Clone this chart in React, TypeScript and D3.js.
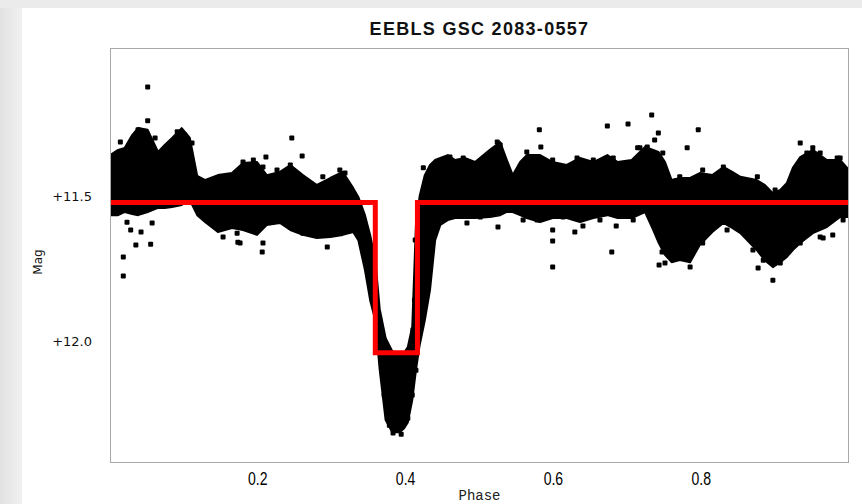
import * as React from 'react';
import * as d3 from 'd3';

// dense light-curve band (phase, bright edge, faint edge)
const bandPhase = [
  0.000, 0.011, 0.020, 0.030, 0.038, 0.051, 0.065, 0.074, 0.084, 0.097,
  0.108, 0.118, 0.129, 0.146, 0.165, 0.180, 0.199, 0.212, 0.230, 0.244,
  0.261, 0.280, 0.298, 0.315, 0.329, 0.336, 0.345, 0.352, 0.359, 0.365,
  0.373, 0.382, 0.392, 0.398, 0.403, 0.409, 0.414, 0.419, 0.426, 0.433,
  0.440, 0.447, 0.457, 0.467, 0.480, 0.494, 0.514, 0.528, 0.537, 0.545,
  0.555, 0.564, 0.582, 0.599, 0.618, 0.636, 0.654, 0.673, 0.687, 0.706,
  0.724, 0.735, 0.742, 0.751, 0.760, 0.771, 0.785, 0.798, 0.815, 0.830,
  0.842, 0.853, 0.875, 0.886, 0.897, 0.907, 0.916, 0.924, 0.934, 0.951,
  0.970, 0.988, 1.000,
];
const bandUpper = [
  11.359, 11.341, 11.334, 11.290, 11.266, 11.272, 11.348, 11.324, 11.300, 11.266,
  11.300, 11.431, 11.445, 11.428, 11.421, 11.386, 11.383, 11.428, 11.417, 11.393,
  11.428, 11.462, 11.438, 11.417, 11.472, 11.503, 11.566, 11.634, 11.721, 11.890,
  11.990, 12.035, 12.045, 12.040, 12.020, 11.950, 11.600, 11.500, 11.428, 11.393,
  11.376, 11.369, 11.359, 11.376, 11.369, 11.383, 11.341, 11.314, 11.376, 11.428,
  11.383, 11.359, 11.359, 11.383, 11.393, 11.369, 11.383, 11.359, 11.383, 11.376,
  11.331, 11.341, 11.348, 11.383, 11.445, 11.438, 11.438, 11.421, 11.428, 11.400,
  11.417, 11.434, 11.445, 11.462, 11.490, 11.479, 11.455, 11.403, 11.366, 11.341,
  11.376, 11.376, 11.410,
];
const bandLower = [
  11.566, 11.566, 11.555, 11.562, 11.566, 11.555, 11.541, 11.541, 11.538, 11.531,
  11.514, 11.566, 11.590, 11.624, 11.610, 11.617, 11.634, 11.600, 11.593, 11.617,
  11.634, 11.645, 11.641, 11.634, 11.624, 11.652, 11.755, 11.859, 11.928, 12.100,
  12.272, 12.314, 12.314, 12.300, 12.280, 12.203, 12.100, 12.014, 11.928, 11.824,
  11.652, 11.600, 11.583, 11.576, 11.576, 11.576, 11.572, 11.566, 11.555, 11.555,
  11.566, 11.576, 11.590, 11.576, 11.576, 11.590, 11.576, 11.566, 11.576, 11.576,
  11.555, 11.617, 11.659, 11.703, 11.728, 11.721, 11.728, 11.669, 11.624, 11.593,
  11.610, 11.628, 11.686, 11.721, 11.745, 11.728, 11.710, 11.686, 11.662, 11.628,
  11.607, 11.572, 11.572,
];

// single measurements along the ragged edges of the band and in the eclipse
const edgePhase = [
  0.038, 0.043, 0.061, 0.068, 0.091, 0.101, 0.111, 0.180, 0.194, 0.207,
  0.226, 0.240, 0.288, 0.311, 0.318, 0.424, 0.460, 0.478, 0.524, 0.528,
  0.564, 0.599, 0.632, 0.654, 0.681, 0.717, 0.727, 0.748, 0.771, 0.802,
  0.830, 0.876, 0.930, 0.943, 0.961, 0.984,
  0.153, 0.172, 0.176, 0.199, 0.207, 0.244, 0.261, 0.271, 0.288, 0.483,
  0.501, 0.578, 0.599, 0.613, 0.645, 0.663, 0.708, 0.740, 0.754, 0.785,
  0.802, 0.835, 0.870, 0.884, 0.907, 0.934, 0.961, 0.992,
  0.333, 0.340, 0.348, 0.356, 0.364, 0.371, 0.412, 0.410, 0.426, 0.433,
  0.413, 0.368, 0.371, 0.378, 0.383, 0.394, 0.403, 0.409, 0.414, 0.386,
];
const edgeMag = [
  11.272, 11.300, 11.300, 11.352, 11.279, 11.290, 11.317, 11.383, 11.376, 11.400,
  11.410, 11.410, 11.434, 11.410, 11.421, 11.403, 11.366, 11.369, 11.314, 11.324,
  11.348, 11.376, 11.369, 11.376, 11.369, 11.334, 11.331, 11.352, 11.434, 11.410,
  11.400, 11.434, 11.410, 11.352, 11.352, 11.369,
  11.641, 11.628, 11.662, 11.607, 11.662, 11.607, 11.628, 11.617, 11.607, 11.593,
  11.572, 11.583, 11.617, 11.572, 11.572, 11.583, 11.583, 11.593, 11.686, 11.745,
  11.662, 11.617, 11.686, 11.721, 11.731, 11.662, 11.641, 11.583,
  11.548, 11.652, 11.738, 11.859, 11.928, 11.997, 11.859, 11.962, 11.721, 11.617,
  11.652, 12.066, 12.186, 12.290, 12.317, 12.321, 12.266, 12.186, 12.100, 12.238,
];

// stray measurements well outside the band
const outPhase = [
  0.051, 0.051, 0.014, 0.018, 0.018, 0.035, 0.055, 0.057, 0.023, 0.028,
  0.042, 0.246, 0.260, 0.211, 0.244, 0.206, 0.294, 0.173, 0.581, 0.583,
  0.673, 0.701, 0.733, 0.742, 0.737, 0.525, 0.559, 0.599, 0.599, 0.629,
  0.640, 0.685, 0.679, 0.743, 0.751, 0.796, 0.781, 0.714, 0.934, 0.951,
  0.988, 0.900, 0.965, 0.978, 0.877, 0.897, 0.747,
];
const outMag = [
  11.124, 11.241, 11.314, 11.710, 11.776, 11.669, 11.666, 11.593, 11.590, 11.617,
  11.624, 11.300, 11.362, 11.366, 11.393, 11.693, 11.676, 11.659, 11.272, 11.331,
  11.259, 11.252, 11.221, 11.283, 11.307, 11.607, 11.583, 11.655, 11.745, 11.624,
  11.603, 11.603, 11.693, 11.738, 11.731, 11.272, 11.334, 11.334, 11.317, 11.334,
  11.369, 11.479, 11.645, 11.634, 11.748, 11.790, 11.693,
];

// EEBLS box fit
const fitPhase = [0, 0.359, 0.359, 0.416, 0.416, 1];
const fitMag = [11.522, 11.522, 12.04, 12.04, 11.522, 11.522];

const xTicks = [0.2, 0.4, 0.6, 0.8];
const yTicks = [11.5, 12.0];

const width = 862;
const height = 504;
const left = 110;
const right = 849;
const top = 48;
const bottom = 463;

const App = () => {
  const x = d3.scaleLinear().domain([0, 1]).range([left, right]);
  const y = d3.scaleLinear().domain([10.99, 12.42]).range([top, bottom]);

  const band = bandPhase.map((p, i) => ({ p, u: bandUpper[i], l: bandLower[i] }));
  const bandArea = d3.area<any>()
    .x(d => x(d.p))
    .y0(d => y(d.l))
    .y1(d => y(d.u));

  const dots = outPhase.map((p, i) => [p, outMag[i]])
    .concat(edgePhase.map((p, i) => [p, edgeMag[i]]));

  const fit = fitPhase.map((p, i) => [x(p), y(fitMag[i])] as [number, number]);
  const fitLine = d3.line();

  const sans = 'Liberation Sans, Arial, sans-serif';

  return (
    <div style={{ position: 'fixed', left: 0, top: 0 }}>
      <svg width={width} height={height} style={{ display: 'block' }}>
        <defs>
          <linearGradient id="edge" x1="0" x2="1" y1="0" y2="0">
            <stop offset="0" stopColor="#e2e2e2" />
            <stop offset="1" stopColor="#f1f1f1" />
          </linearGradient>
          <clipPath id="plot">
            <rect x={left} y={top} width={right - left} height={bottom - top} />
          </clipPath>
        </defs>
        <rect x={0} y={0} width={width} height={height} fill="#ebebeb" />
        <rect x={0} y={8} width={22} height={height} fill="url(#edge)" />
        <rect x={22} y={8} width={width - 22} height={height - 8} fill="#ffffff" />

        <text x={(left + right) / 2} y={35} textAnchor="middle" fontFamily={sans}
          fontWeight="bold" fontSize={18} letterSpacing={1.3} fill="#111">EEBLS GSC 2083-0557</text>

        <g clipPath="url(#plot)">
          <path d={bandArea(band) || ''} fill="#000" stroke="#000" strokeWidth={2}
            strokeLinejoin="round" />
          {dots.map((d, i) => (
            <rect key={i} x={x(d[0]) - 2.5} y={y(d[1]) - 2.5} width={5} height={5} rx={1}
              fill="#000" />
          ))}
          <path d={fitLine(fit) || ''} fill="none" stroke="#ff0000" strokeWidth={5}
            strokeLinejoin="miter" />
        </g>

        <rect x={left + 0.5} y={top + 0.5} width={right - left - 1} height={bottom - top - 1}
          fill="none" stroke="#a8a8a8" strokeWidth={1} />

        {yTicks.map(t => (
          <text key={t} x={92} y={y(t) + 5} textAnchor="end"
            fontFamily="DejaVu Sans, Verdana, sans-serif" fontSize={13}
            fill="#111">+{t.toFixed(1)}</text>
        ))}
        <text transform={`translate(42,262) rotate(-90)`} textAnchor="middle"
          fontFamily="DejaVu Sans, Verdana, sans-serif" fontSize={12} fill="#111">Mag</text>

        {xTicks.map(t => (
          <text key={t} transform={`translate(${x(t)},485) scale(0.78,1)`} textAnchor="middle"
            fontFamily={sans} fontSize={18} fill="#000">{t.toFixed(1)}</text>
        ))}
        <text x={(left + right) / 2} y={500} textAnchor="middle"
          fontFamily="Liberation Mono, DejaVu Sans Mono, monospace" fontSize={14}
          fill="#222">Phase</text>
      </svg>
    </div>
  );
};

export default App;
